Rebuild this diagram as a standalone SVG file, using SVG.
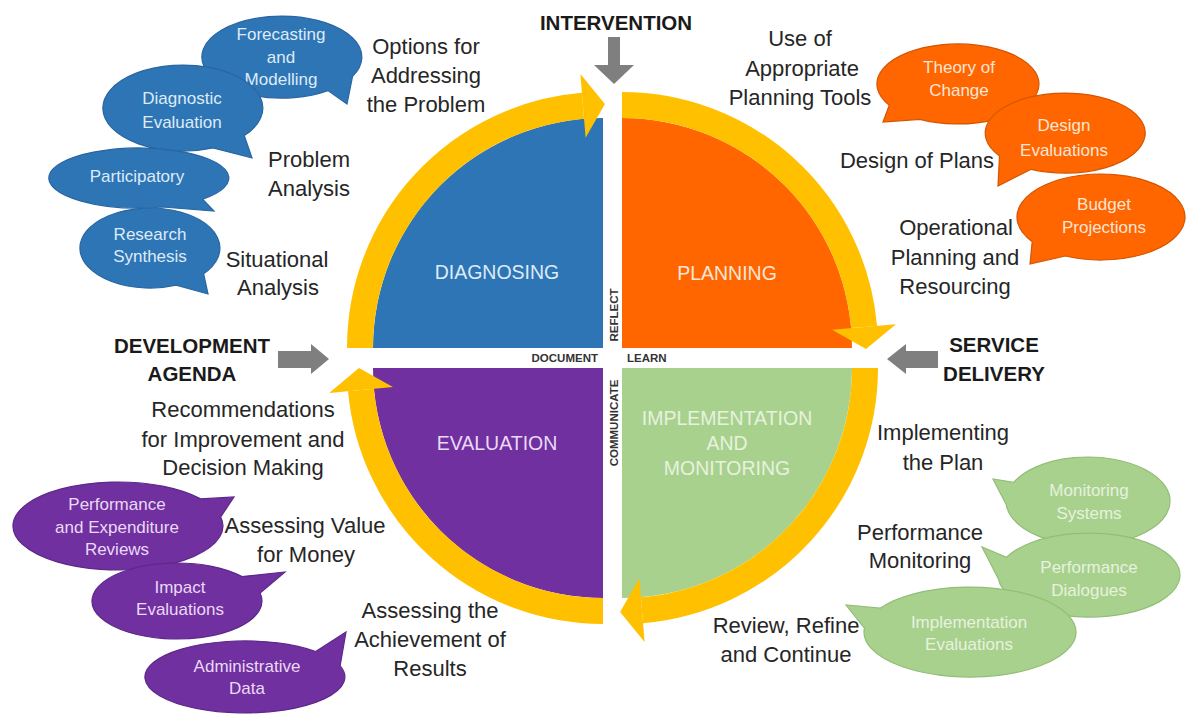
<svg xmlns="http://www.w3.org/2000/svg" width="1187" height="722" viewBox="0 0 1187 722">
<style>
text{font-family:"Liberation Sans",Arial,sans-serif;text-anchor:middle}
.lbl{font-size:22px;fill:#262626}
.bold{font-size:20.5px;font-weight:bold;fill:#1a1a1a}
.q{font-size:19.5px}
.b{font-size:17px}
.small{font-size:11.5px;font-weight:bold;fill:#333}
.ring{fill:none;stroke:#FFC000;stroke-width:26}
.head{fill:#FFC000}
.gray{fill:#7F7F7F}
.bl{fill:#2E75B6;stroke:#2966A0;stroke-width:1.2}
.or{fill:#FF6600;stroke:#D45500;stroke-width:1.2}
.pu{fill:#7030A0;stroke:#5E2888;stroke-width:1.2}
.gr{fill:#A9D18E;stroke:#93BD77;stroke-width:1.2}
.tbl{fill:#DEEBF7}
.tor{fill:#FBE5D6}
.tpu{fill:#EAD9F5}
.tgr{fill:#E6F2DE}
</style>
<rect width="1187" height="722" fill="#ffffff"/>

<g id="quadrants">
  <g id="diagnosing">
    <path d="M603,348 L373,348 A230,230 0 0 1 603,118 Z" fill="#2E75B6"/>
    <text class="q tbl" x="497" y="279">DIAGNOSING</text>
  </g>
  <g id="planning">
    <path d="M622,348 L622,118 A230,230 0 0 1 852,348 Z" fill="#FF6600"/>
    <text class="q tor" x="727" y="280">PLANNING</text>
  </g>
  <g id="implementation">
    <path d="M622,368 L852,368 A230,230 0 0 1 622,598 Z" fill="#A9D18E"/>
    <text class="q tgr" x="727" y="425">IMPLEMENTATION</text>
    <text class="q tgr" x="727" y="450">AND</text>
    <text class="q tgr" x="727" y="475">MONITORING</text>
  </g>
  <g id="evaluation">
    <path d="M603,368 L603,598 A230,230 0 0 1 373,368 Z" fill="#7030A0"/>
    <text class="q tpu" x="497" y="450">EVALUATION</text>
  </g>
</g>

<g id="connectors">
  <path class="ring" d="M360,348 A243,243 0 0 1 583,105.8"/>
  <polygon class="head" points="580.4,73.9 585.6,137.7 604.9,104"/>
  <path class="ring" d="M622,105 A243,243 0 0 1 864.1,327"/>
  <polygon class="head" points="896,324.2 832.2,329.8 866,348.9"/>
  <path class="ring" d="M865,368 A243,243 0 0 1 642,610.2"/>
  <polygon class="head" points="644.6,642.1 639.4,578.3 620.1,612"/>
  <path class="ring" d="M603,611 A243,243 0 0 1 361,390"/>
  <polygon class="head" points="329.1,392.9 392.9,387.1 359,368.1"/>
  <g id="arrow-intervention">
    <rect class="gray" x="608" y="37" width="12" height="29"/>
    <polygon class="gray" points="594,65 634,65 614,84"/>
  </g>
  <g id="arrow-development">
    <rect class="gray" x="278" y="351" width="34" height="17"/>
    <polygon class="gray" points="311,344 311,374 329,359"/>
  </g>
  <g id="arrow-service">
    <rect class="gray" x="905" y="351" width="33" height="17"/>
    <polygon class="gray" points="906,344 906,374 887,359"/>
  </g>
</g>

<g id="cross-labels">
  <text class="small" x="598" y="362" style="text-anchor:end">DOCUMENT</text>
  <text class="small" x="627" y="362" style="text-anchor:start">LEARN</text>
  <text class="small" transform="translate(618,315) rotate(-90)" x="0" y="0">REFLECT</text>
  <text class="small" transform="translate(618,423) rotate(-90)" x="0" y="0">COMMUNICATE</text>
</g>

<g id="inputs">
  <g id="intervention"><text class="bold" x="616" y="30">INTERVENTION</text></g>
  <g id="development-agenda">
    <text class="bold" x="192" y="353">DEVELOPMENT</text>
    <text class="bold" x="192" y="381">AGENDA</text>
  </g>
  <g id="service-delivery">
    <text class="bold" x="994" y="352">SERVICE</text>
    <text class="bold" x="994" y="381">DELIVERY</text>
  </g>
</g>

<g id="labels">
  <g id="lbl-options">
    <text class="lbl" x="426" y="54">Options for</text>
    <text class="lbl" x="426" y="83">Addressing</text>
    <text class="lbl" x="426" y="112">the Problem</text>
  </g>
  <g id="lbl-problem">
    <text class="lbl" x="309" y="167">Problem</text>
    <text class="lbl" x="309" y="196">Analysis</text>
  </g>
  <g id="lbl-situational">
    <text class="lbl" x="277" y="267">Situational</text>
    <text class="lbl" x="278" y="295">Analysis</text>
  </g>
  <g id="lbl-tools">
    <text class="lbl" x="800" y="46">Use of</text>
    <text class="lbl" x="802" y="76">Appropriate</text>
    <text class="lbl" x="800" y="105">Planning Tools</text>
  </g>
  <g id="lbl-design"><text class="lbl" x="917" y="168">Design of Plans</text></g>
  <g id="lbl-operational">
    <text class="lbl" x="956" y="235">Operational</text>
    <text class="lbl" x="955" y="265">Planning and</text>
    <text class="lbl" x="955" y="294">Resourcing</text>
  </g>
  <g id="lbl-recommendations">
    <text class="lbl" x="243" y="417">Recommendations</text>
    <text class="lbl" x="243" y="447">for Improvement and</text>
    <text class="lbl" x="243" y="475">Decision Making</text>
  </g>
  <g id="lbl-value">
    <text class="lbl" x="305" y="533">Assessing Value</text>
    <text class="lbl" x="306" y="562">for Money</text>
  </g>
  <g id="lbl-achievement">
    <text class="lbl" x="430" y="618">Assessing the</text>
    <text class="lbl" x="430" y="647">Achievement of</text>
    <text class="lbl" x="430" y="676">Results</text>
  </g>
  <g id="lbl-implementing">
    <text class="lbl" x="943" y="440">Implementing</text>
    <text class="lbl" x="943" y="470">the Plan</text>
  </g>
  <g id="lbl-perfmon">
    <text class="lbl" x="920" y="540">Performance</text>
    <text class="lbl" x="920" y="568">Monitoring</text>
  </g>
  <g id="lbl-review">
    <text class="lbl" x="786" y="633">Review, Refine</text>
    <text class="lbl" x="786" y="662">and Continue</text>
  </g>
</g>

<g id="bubbles-diagnosing">
  <g id="b-forecasting">
    <path class="bl" d="M352.6,76.2 A80,41 0 1 0 327.9,90.6 L347,104 Z"/>
    <text class="b tbl" x="281" y="40">Forecasting</text>
    <text class="b tbl" x="281" y="63">and</text>
    <text class="b tbl" x="281" y="85">Modelling</text>
  </g>
  <g id="b-diagnostic">
    <path class="bl" d="M244.3,135.6 A80,43 0 1 0 213,147.9 L252,158 Z"/>
    <text class="b tbl" x="182" y="104">Diagnostic</text>
    <text class="b tbl" x="182" y="128">Evaluation</text>
  </g>
  <g id="b-participatory">
    <path class="bl" d="M202.6,199.2 A90,30 0 1 0 162.3,207 L214,211 Z"/>
    <text class="b tbl" x="137" y="182">Participatory</text>
  </g>
  <g id="b-research">
    <path class="bl" d="M203.6,273.7 A70,40 0 1 0 176.2,285.1 L208,294 Z"/>
    <text class="b tbl" x="150" y="240">Research</text>
    <text class="b tbl" x="150" y="262">Synthesis</text>
  </g>
</g>

<g id="bubbles-planning">
  <g id="b-theory">
    <path class="or" d="M920,119.3 A81,40 0 1 0 889.3,105.2 L883,122 Z"/>
    <text class="b tor" x="959" y="73">Theory of</text>
    <text class="b tor" x="959" y="96">Change</text>
  </g>
  <g id="b-design">
    <path class="or" d="M1031.2,169.3 A80,40 0 1 0 999.5,155.9 L998,186 Z"/>
    <text class="b tor" x="1064" y="131">Design</text>
    <text class="b tor" x="1064" y="156">Evaluations</text>
  </g>
  <g id="b-budget">
    <path class="or" d="M1065.5,256 A84,43 0 1 0 1032.2,241.7 L1030,264 Z"/>
    <text class="b tor" x="1104" y="210">Budget</text>
    <text class="b tor" x="1104" y="233">Projections</text>
  </g>
</g>

<g id="bubbles-evaluation">
  <g id="b-performance-reviews">
    <path class="pu" d="M200.7,498.9 A105,44 0 1 0 220.7,516.9 L234,497 Z"/>
    <text class="b tpu" x="117" y="510">Performance</text>
    <text class="b tpu" x="117" y="533">and Expenditure</text>
    <text class="b tpu" x="117" y="555">Reviews</text>
  </g>
  <g id="b-impact">
    <path class="pu" d="M242.1,576.6 A85,38 0 1 0 260.1,593.1 L285,572 Z"/>
    <text class="b tpu" x="180" y="593">Impact</text>
    <text class="b tpu" x="180" y="615">Evaluations</text>
  </g>
  <g id="b-admin">
    <path class="pu" d="M315.7,651.5 A100,36 0 1 0 340.1,665.9 L346,632 Z"/>
    <text class="b tpu" x="247" y="672">Administrative</text>
    <text class="b tpu" x="247" y="694">Data</text>
  </g>
</g>

<g id="bubbles-implementation">
  <g id="b-monitoring-systems">
    <path class="gr" d="M1006.3,504.8 A82,44 0 1 0 1013.7,482.4 L993,479 Z"/>
    <text class="b tgr" x="1089" y="496">Monitoring</text>
    <text class="b tgr" x="1089" y="519">Systems</text>
  </g>
  <g id="b-performance-dialogues">
    <path class="gr" d="M998.3,578.7 A91,42 0 1 0 1006.5,557.3 L982,547 Z"/>
    <text class="b tgr" x="1089" y="573">Performance</text>
    <text class="b tgr" x="1089" y="596">Dialogues</text>
  </g>
  <g id="b-implementation-evaluations">
    <path class="gr" d="M864.4,628.1 A106,45 0 1 0 880.1,608.2 L846,605 Z"/>
    <text class="b tgr" x="969" y="628">Implementation</text>
    <text class="b tgr" x="969" y="650">Evaluations</text>
  </g>
</g>
</svg>
